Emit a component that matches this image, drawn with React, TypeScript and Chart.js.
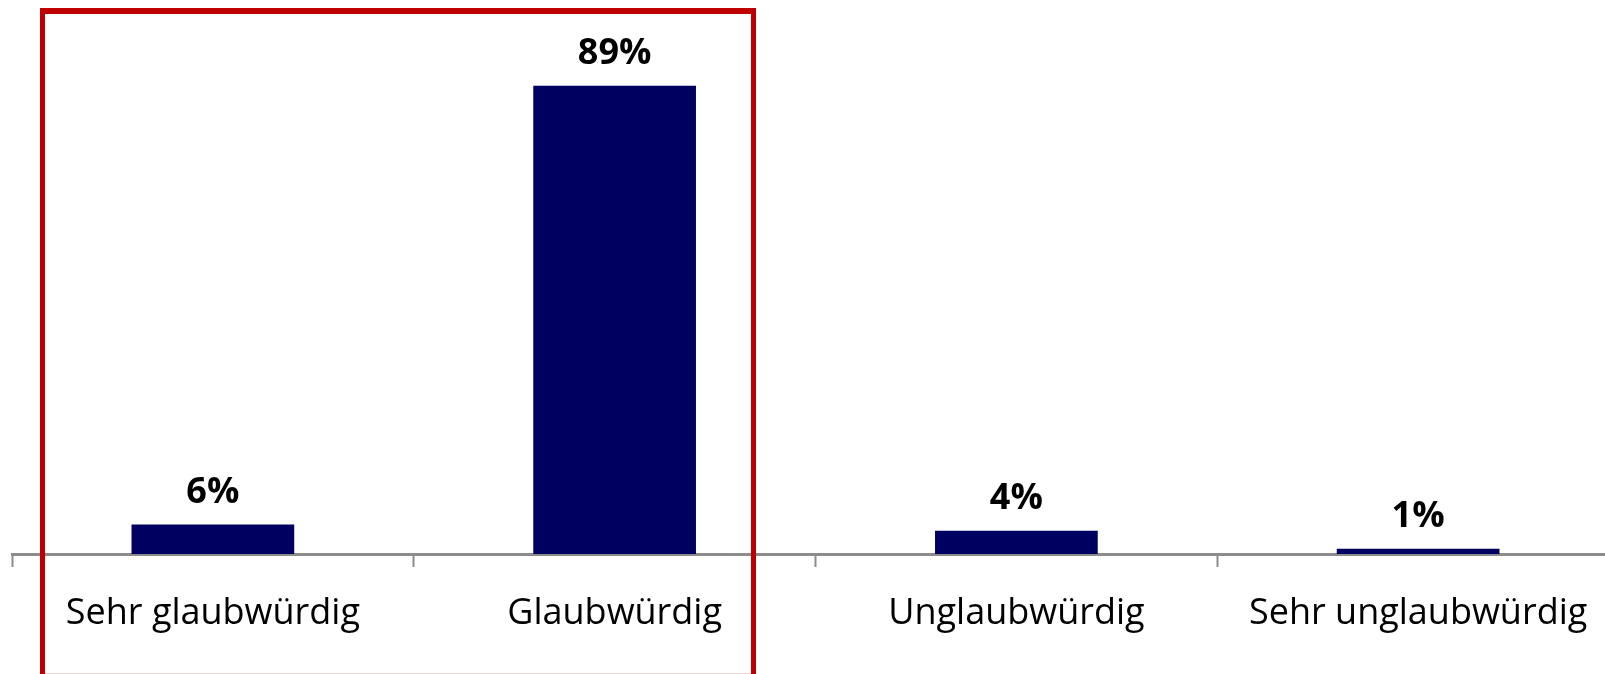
import React, { useEffect, useRef } from "react";
import { Chart, registerables } from "chart.js";

Chart.register(...registerables);

const categories = ["Sehr glaubwürdig", "Glaubwürdig", "Unglaubwürdig", "Sehr unglaubwürdig"];
const values = [5.6, 89, 4.4, 1];
const valueLabels = ["6%", "89%", "4%", "1%"];

const FONT = "'Open Sans', 'Noto Sans', sans-serif";

const valueLabelPlugin = {
  id: "valueLabels",
  afterDatasetsDraw(chart: any) {
    const ctx = chart.ctx;
    const meta = chart.getDatasetMeta(0);
    ctx.save();
    ctx.fillStyle = "#000000";
    ctx.font = `bold 36px ${FONT}`;
    ctx.textAlign = "center";
    ctx.textBaseline = "alphabetic";
    meta.data.forEach((bar: any, i: number) => {
      const { x, y } = bar.getProps(["x", "y"], true);
      ctx.fillText(valueLabels[i], x, y - 22);
    });
    ctx.restore();
  },
};

const frameBoxPlugin = {
  id: "frameBox",
  afterDraw(chart: any) {
    const ctx = chart.ctx;
    ctx.save();
    ctx.fillStyle = "#c00000";
    ctx.fillRect(40, 8, 5, 666);
    ctx.fillRect(751, 8, 5, 666);
    ctx.fillRect(40, 8, 716, 6);
    ctx.fillStyle = "#f0d0d0";
    ctx.fillRect(45, 673, 706, 1);
    ctx.restore();
  },
};

export default function App() {
  const canvasRef = useRef<HTMLCanvasElement | null>(null);

  useEffect(() => {
    if (!canvasRef.current) return;
    const chart = new Chart(canvasRef.current, {
      type: "bar",
      data: {
        labels: categories,
        datasets: [
          {
            data: values,
            backgroundColor: "#000060",
            borderWidth: 0,
            categoryPercentage: 1,
            barPercentage: 0.405,
          },
        ],
      },
      options: {
        animation: false,
        responsive: false,
        maintainAspectRatio: false,
        layout: { padding: { left: 12, right: 6, top: 28, bottom: 0 } },
        plugins: {
          legend: { display: false },
          tooltip: { enabled: false },
          title: { display: false },
        },
        scales: {
          y: {
            display: false,
            min: 0,
            max: 100,
          },
          x: {
            border: { display: true, color: "#8c8c8c", width: 3 },
            grid: {
              display: true,
              drawOnChartArea: false,
              drawTicks: true,
              tickLength: 13,
              tickWidth: 2,
              tickColor: "#8c8c8c",
              offset: true,
            },
            ticks: {
              color: "#000000",
              font: { family: FONT, size: 36 },
              padding: 25,
              maxRotation: 0,
              autoSkip: false,
            },
            afterFit: (scale: any) => {
              scale.height = 120;
            },
          },
        },
      },
      plugins: [valueLabelPlugin, frameBoxPlugin],
    });
    return () => chart.destroy();
  }, []);

  return (
    <div
      style={{
        position: "fixed",
        left: 0,
        top: 0,
        width: 1605,
        height: 674,
        overflow: "hidden",
        background: "#ffffff",
      }}
    >
      <canvas ref={canvasRef} width={1625} height={674} style={{ display: "block", width: 1625, height: 674 }} />
    </div>
  );
}
